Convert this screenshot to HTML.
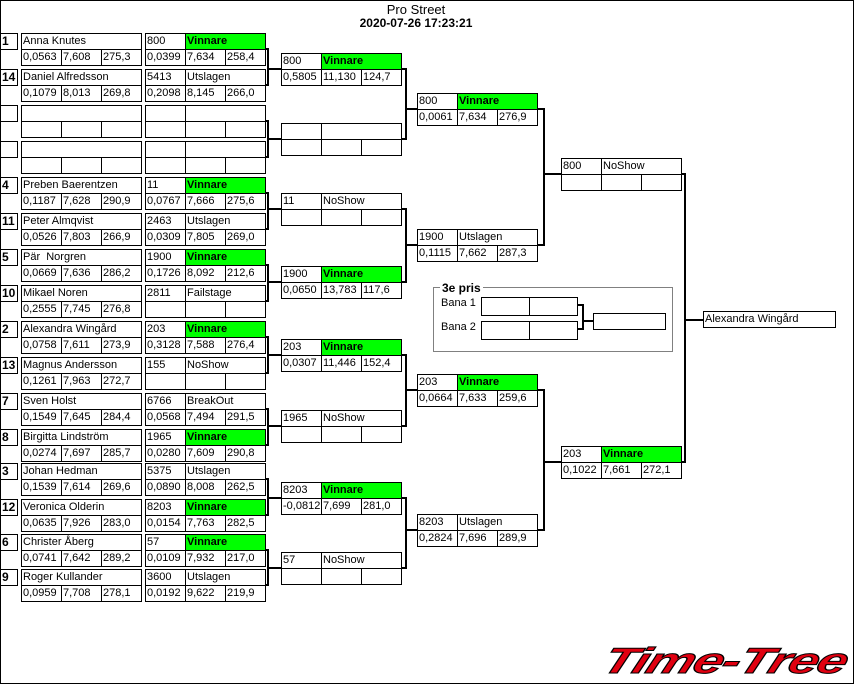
<!DOCTYPE html>
<html><head><meta charset="utf-8"><style>
*{margin:0;padding:0;box-sizing:border-box}
body{width:854px;height:684px;position:relative;background:#fff;overflow:hidden;font-family:"Liberation Sans",sans-serif;font-size:11px;color:#000}
#frame{position:absolute;left:0;top:0;width:854px;height:684px;border:1px solid #000}
.r{position:absolute;height:17px;border:1px solid #000;display:flex;background:#fff}
.w1{width:121px}.w2{width:133px}
.c{width:40px;border-right:1px solid #000;padding-left:1px;line-height:15px;white-space:nowrap;overflow:hidden;height:15px}
.c.l{width:39px;border-right:none}
.c.n{width:119px;border-right:none}
.c.v{width:79px;border-right:none}
.c.g{width:79px;border-right:none;background:#00ff00;font-weight:bold}
.s{position:absolute;left:0;width:18px;height:17px;border:1px solid #000;font-weight:bold;font-size:12px;line-height:15px;padding-left:1px;background:#fff}
svg{position:absolute;left:0;top:0}
.t{position:absolute;white-space:nowrap}
</style></head><body>
<div id="frame"></div>
<div class="t" style="left:0;width:832px;text-align:center;top:2px;font-size:13px">Pro Street</div>
<div class="t" style="left:0;width:832px;text-align:center;top:16px;font-size:12px;font-weight:bold">2020-07-26 17:23:21</div>

<svg width="854" height="684">
<g stroke="#000" stroke-width="2" fill="none">
<polyline points="265,49 268,49 268,85 265,85"/><line x1="268" y1="69" x2="281" y2="69"/>
<polyline points="265,121 268,121 268,157 265,157"/><line x1="268" y1="139" x2="281" y2="139"/>
<polyline points="265,193 268,193 268,229 265,229"/><line x1="268" y1="209" x2="281" y2="209"/>
<polyline points="265,265 268,265 268,301 265,301"/><line x1="268" y1="282" x2="281" y2="282"/>
<polyline points="265,337 268,337 268,373 265,373"/><line x1="268" y1="355" x2="281" y2="355"/>
<polyline points="265,409 268,409 268,445 265,445"/><line x1="268" y1="426" x2="281" y2="426"/>
<polyline points="265,479 268,479 268,515 265,515"/><line x1="268" y1="498" x2="281" y2="498"/>
<polyline points="265,550 268,550 268,585 265,585"/><line x1="268" y1="568" x2="281" y2="568"/>
<polyline points="401,69 406,69 406,139 401,139"/><line x1="406" y1="109" x2="417" y2="109"/>
<polyline points="401,209 406,209 406,282 401,282"/><line x1="406" y1="245" x2="417" y2="245"/>
<polyline points="401,355 406,355 406,426 401,426"/><line x1="406" y1="390" x2="417" y2="390"/>
<polyline points="401,498 406,498 406,568 401,568"/><line x1="406" y1="530" x2="417" y2="530"/>
<polyline points="537,109 544,109 544,245 537,245"/><line x1="544" y1="174" x2="561" y2="174"/>
<polyline points="537,390 544,390 544,530 537,530"/><line x1="544" y1="462" x2="561" y2="462"/>
<polyline points="681,174 685,174 685,462 681,462"/><line x1="685" y1="320" x2="703" y2="320"/>
<polyline points="577,305 583,305 583,329 577,329"/><line x1="583" y1="321" x2="593" y2="321"/>
</g>
<rect x="433.5" y="287.5" width="239" height="64" fill="none" stroke="#808080" stroke-width="1"/>
</svg>
<div class="t" style="left:440px;top:281px;background:#fff;padding:0 2px;font-weight:bold;font-size:12px">3e pris</div>
<div class="t" style="left:441px;top:297px">Bana 1</div>
<div class="t" style="left:441px;top:321px">Bana 2</div>
<div class="r" style="left:481px;top:297px;width:97px;height:19px"><div class="c" style="width:48px;height:17px"></div></div>
<div class="r" style="left:481px;top:321px;width:97px;height:19px"><div class="c" style="width:48px;height:17px"></div></div>
<div class="r" style="left:593px;top:313px;width:73px;height:17px"></div>

<div class="s" style="top:33px">1</div>
<div class="s" style="top:69px">14</div>
<div class="s" style="top:105px"></div>
<div class="s" style="top:141px"></div>
<div class="s" style="top:177px">4</div>
<div class="s" style="top:213px">11</div>
<div class="s" style="top:249px">5</div>
<div class="s" style="top:285px">10</div>
<div class="s" style="top:321px">2</div>
<div class="s" style="top:357px">13</div>
<div class="s" style="top:393px">7</div>
<div class="s" style="top:429px">8</div>
<div class="s" style="top:463px">3</div>
<div class="s" style="top:499px">12</div>
<div class="s" style="top:534px">6</div>
<div class="s" style="top:569px">9</div>

<div class="r w1" style="left:21px;top:33px"><div class="c n">Anna Knutes</div></div>
<div class="r w1" style="left:21px;top:49px"><div class="c">0,0563</div><div class="c">7,608</div><div class="c l">275,3</div></div>
<div class="r w1" style="left:21px;top:69px"><div class="c n">Daniel Alfredsson</div></div>
<div class="r w1" style="left:21px;top:85px"><div class="c">0,1079</div><div class="c">8,013</div><div class="c l">269,8</div></div>
<div class="r w1" style="left:21px;top:105px"><div class="c n"></div></div>
<div class="r w1" style="left:21px;top:121px"><div class="c"></div><div class="c"></div><div class="c l"></div></div>
<div class="r w1" style="left:21px;top:141px"><div class="c n"></div></div>
<div class="r w1" style="left:21px;top:157px"><div class="c"></div><div class="c"></div><div class="c l"></div></div>
<div class="r w1" style="left:21px;top:177px"><div class="c n">Preben Baerentzen</div></div>
<div class="r w1" style="left:21px;top:193px"><div class="c">0,1187</div><div class="c">7,628</div><div class="c l">290,9</div></div>
<div class="r w1" style="left:21px;top:213px"><div class="c n">Peter Almqvist</div></div>
<div class="r w1" style="left:21px;top:229px"><div class="c">0,0526</div><div class="c">7,803</div><div class="c l">266,9</div></div>
<div class="r w1" style="left:21px;top:249px"><div class="c n">Pär&nbsp; Norgren</div></div>
<div class="r w1" style="left:21px;top:265px"><div class="c">0,0669</div><div class="c">7,636</div><div class="c l">286,2</div></div>
<div class="r w1" style="left:21px;top:285px"><div class="c n">Mikael Noren</div></div>
<div class="r w1" style="left:21px;top:301px"><div class="c">0,2555</div><div class="c">7,745</div><div class="c l">276,8</div></div>
<div class="r w1" style="left:21px;top:321px"><div class="c n">Alexandra Wingård</div></div>
<div class="r w1" style="left:21px;top:337px"><div class="c">0,0758</div><div class="c">7,611</div><div class="c l">273,9</div></div>
<div class="r w1" style="left:21px;top:357px"><div class="c n">Magnus Andersson</div></div>
<div class="r w1" style="left:21px;top:373px"><div class="c">0,1261</div><div class="c">7,963</div><div class="c l">272,7</div></div>
<div class="r w1" style="left:21px;top:393px"><div class="c n">Sven Holst</div></div>
<div class="r w1" style="left:21px;top:409px"><div class="c">0,1549</div><div class="c">7,645</div><div class="c l">284,4</div></div>
<div class="r w1" style="left:21px;top:429px"><div class="c n">Birgitta Lindström</div></div>
<div class="r w1" style="left:21px;top:445px"><div class="c">0,0274</div><div class="c">7,697</div><div class="c l">285,7</div></div>
<div class="r w1" style="left:21px;top:463px"><div class="c n">Johan Hedman</div></div>
<div class="r w1" style="left:21px;top:479px"><div class="c">0,1539</div><div class="c">7,614</div><div class="c l">269,6</div></div>
<div class="r w1" style="left:21px;top:499px"><div class="c n">Veronica Olderin</div></div>
<div class="r w1" style="left:21px;top:515px"><div class="c">0,0635</div><div class="c">7,926</div><div class="c l">283,0</div></div>
<div class="r w1" style="left:21px;top:534px"><div class="c n">Christer Åberg</div></div>
<div class="r w1" style="left:21px;top:550px"><div class="c">0,0741</div><div class="c">7,642</div><div class="c l">289,2</div></div>
<div class="r w1" style="left:21px;top:569px"><div class="c n">Roger Kullander</div></div>
<div class="r w1" style="left:21px;top:585px"><div class="c">0,0959</div><div class="c">7,708</div><div class="c l">278,1</div></div>

<div class="r w1" style="left:145px;top:33px"><div class="c">800</div><div class="c g">Vinnare</div></div>
<div class="r w1" style="left:145px;top:49px"><div class="c">0,0399</div><div class="c">7,634</div><div class="c l">258,4</div></div>
<div class="r w1" style="left:145px;top:69px"><div class="c">5413</div><div class="c v">Utslagen</div></div>
<div class="r w1" style="left:145px;top:85px"><div class="c">0,2098</div><div class="c">8,145</div><div class="c l">266,0</div></div>
<div class="r w1" style="left:145px;top:105px"><div class="c"></div><div class="c v"></div></div>
<div class="r w1" style="left:145px;top:121px"><div class="c"></div><div class="c"></div><div class="c l"></div></div>
<div class="r w1" style="left:145px;top:141px"><div class="c"></div><div class="c v"></div></div>
<div class="r w1" style="left:145px;top:157px"><div class="c"></div><div class="c"></div><div class="c l"></div></div>
<div class="r w1" style="left:145px;top:177px"><div class="c">11</div><div class="c g">Vinnare</div></div>
<div class="r w1" style="left:145px;top:193px"><div class="c">0,0767</div><div class="c">7,666</div><div class="c l">275,6</div></div>
<div class="r w1" style="left:145px;top:213px"><div class="c">2463</div><div class="c v">Utslagen</div></div>
<div class="r w1" style="left:145px;top:229px"><div class="c">0,0309</div><div class="c">7,805</div><div class="c l">269,0</div></div>
<div class="r w1" style="left:145px;top:249px"><div class="c">1900</div><div class="c g">Vinnare</div></div>
<div class="r w1" style="left:145px;top:265px"><div class="c">0,1726</div><div class="c">8,092</div><div class="c l">212,6</div></div>
<div class="r w1" style="left:145px;top:285px"><div class="c">2811</div><div class="c v">Failstage</div></div>
<div class="r w1" style="left:145px;top:301px"><div class="c"></div><div class="c"></div><div class="c l"></div></div>
<div class="r w1" style="left:145px;top:321px"><div class="c">203</div><div class="c g">Vinnare</div></div>
<div class="r w1" style="left:145px;top:337px"><div class="c">0,3128</div><div class="c">7,588</div><div class="c l">276,4</div></div>
<div class="r w1" style="left:145px;top:357px"><div class="c">155</div><div class="c v">NoShow</div></div>
<div class="r w1" style="left:145px;top:373px"><div class="c"></div><div class="c"></div><div class="c l"></div></div>
<div class="r w1" style="left:145px;top:393px"><div class="c">6766</div><div class="c v">BreakOut</div></div>
<div class="r w1" style="left:145px;top:409px"><div class="c">0,0568</div><div class="c">7,494</div><div class="c l">291,5</div></div>
<div class="r w1" style="left:145px;top:429px"><div class="c">1965</div><div class="c g">Vinnare</div></div>
<div class="r w1" style="left:145px;top:445px"><div class="c">0,0280</div><div class="c">7,609</div><div class="c l">290,8</div></div>
<div class="r w1" style="left:145px;top:463px"><div class="c">5375</div><div class="c v">Utslagen</div></div>
<div class="r w1" style="left:145px;top:479px"><div class="c">0,0890</div><div class="c">8,008</div><div class="c l">262,5</div></div>
<div class="r w1" style="left:145px;top:499px"><div class="c">8203</div><div class="c g">Vinnare</div></div>
<div class="r w1" style="left:145px;top:515px"><div class="c">0,0154</div><div class="c">7,763</div><div class="c l">282,5</div></div>
<div class="r w1" style="left:145px;top:534px"><div class="c">57</div><div class="c g">Vinnare</div></div>
<div class="r w1" style="left:145px;top:550px"><div class="c">0,0109</div><div class="c">7,932</div><div class="c l">217,0</div></div>
<div class="r w1" style="left:145px;top:569px"><div class="c">3600</div><div class="c v">Utslagen</div></div>
<div class="r w1" style="left:145px;top:585px"><div class="c">0,0192</div><div class="c">9,622</div><div class="c l">219,9</div></div>

<div class="r w1" style="left:281px;top:53px"><div class="c">800</div><div class="c g">Vinnare</div></div>
<div class="r w1" style="left:281px;top:69px"><div class="c">0,5805</div><div class="c">11,130</div><div class="c l">124,7</div></div>
<div class="r w1" style="left:281px;top:123px"><div class="c"></div><div class="c v"></div></div>
<div class="r w1" style="left:281px;top:139px"><div class="c"></div><div class="c"></div><div class="c l"></div></div>
<div class="r w1" style="left:281px;top:193px"><div class="c">11</div><div class="c v">NoShow</div></div>
<div class="r w1" style="left:281px;top:209px"><div class="c"></div><div class="c"></div><div class="c l"></div></div>
<div class="r w1" style="left:281px;top:266px"><div class="c">1900</div><div class="c g">Vinnare</div></div>
<div class="r w1" style="left:281px;top:282px"><div class="c">0,0650</div><div class="c">13,783</div><div class="c l">117,6</div></div>
<div class="r w1" style="left:281px;top:339px"><div class="c">203</div><div class="c g">Vinnare</div></div>
<div class="r w1" style="left:281px;top:355px"><div class="c">0,0307</div><div class="c">11,446</div><div class="c l">152,4</div></div>
<div class="r w1" style="left:281px;top:410px"><div class="c">1965</div><div class="c v">NoShow</div></div>
<div class="r w1" style="left:281px;top:426px"><div class="c"></div><div class="c"></div><div class="c l"></div></div>
<div class="r w1" style="left:281px;top:482px"><div class="c">8203</div><div class="c g">Vinnare</div></div>
<div class="r w1" style="left:281px;top:498px"><div class="c">-0,0812</div><div class="c">7,699</div><div class="c l">281,0</div></div>
<div class="r w1" style="left:281px;top:552px"><div class="c">57</div><div class="c v">NoShow</div></div>
<div class="r w1" style="left:281px;top:568px"><div class="c"></div><div class="c"></div><div class="c l"></div></div>

<div class="r w1" style="left:417px;top:93px"><div class="c">800</div><div class="c g">Vinnare</div></div>
<div class="r w1" style="left:417px;top:109px"><div class="c">0,0061</div><div class="c">7,634</div><div class="c l">276,9</div></div>
<div class="r w1" style="left:417px;top:229px"><div class="c">1900</div><div class="c v">Utslagen</div></div>
<div class="r w1" style="left:417px;top:245px"><div class="c">0,1115</div><div class="c">7,662</div><div class="c l">287,3</div></div>
<div class="r w1" style="left:417px;top:374px"><div class="c">203</div><div class="c g">Vinnare</div></div>
<div class="r w1" style="left:417px;top:390px"><div class="c">0,0664</div><div class="c">7,633</div><div class="c l">259,6</div></div>
<div class="r w1" style="left:417px;top:514px"><div class="c">8203</div><div class="c v">Utslagen</div></div>
<div class="r w1" style="left:417px;top:530px"><div class="c">0,2824</div><div class="c">7,696</div><div class="c l">289,9</div></div>

<div class="r w1" style="left:561px;top:158px"><div class="c">800</div><div class="c v">NoShow</div></div>
<div class="r w1" style="left:561px;top:174px"><div class="c"></div><div class="c"></div><div class="c l"></div></div>
<div class="r w1" style="left:561px;top:446px"><div class="c">203</div><div class="c g">Vinnare</div></div>
<div class="r w1" style="left:561px;top:462px"><div class="c">0,1022</div><div class="c">7,661</div><div class="c l">272,1</div></div>

<div class="r w2" style="left:703px;top:311px"><div class="c" style="width:131px;border:none">Alexandra Wingård</div></div>

<div class="t" style="left:612px;top:640px;font-size:36px;font-weight:bold;font-style:italic;color:#e00010;-webkit-text-stroke:1px #000;transform:scaleX(1.5) skewX(-14deg);transform-origin:left top;letter-spacing:-1px">Time-Tree</div>
</body></html>
